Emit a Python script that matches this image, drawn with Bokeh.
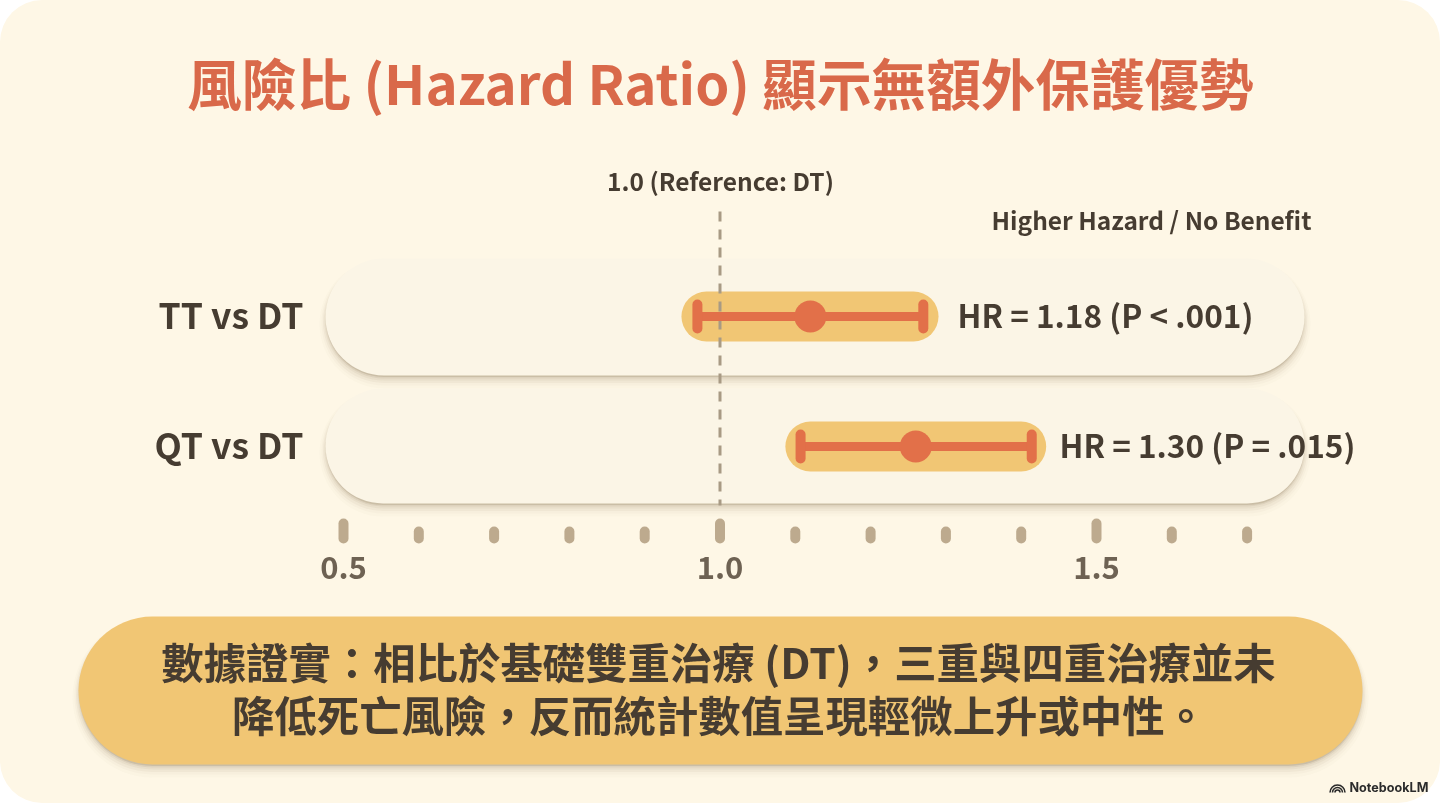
from bokeh.plotting import figure
from bokeh.models import Range1d
from bokeh.core.properties import value
from bokeh.embed import file_html
from bokeh.resources import INLINE

# ---- data
comparisons = ["TT vs DT", "QT vs DT"]
hr_point = [1.12, 1.26]
ci_low = [0.97, 1.107]
ci_high = [1.27, 1.414]
band_low = [0.982, 1.12]
band_high = [1.257, 1.40]
stat_labels = ["HR = 1.18 (P < .001)", "HR = 1.30 (P = .015)"]
major_ticks = [0.5, 1.0, 1.5]
minor_ticks = [0.6, 0.7, 0.8, 0.9, 1.1, 1.2, 1.3, 1.4, 1.6, 1.7]
tick_labels = ["0.5", "1.0", "1.5"]
reference_hr = 1.0

title_text = "風險比 (Hazard Ratio) 顯示無額外保護優勢"
ref_label = "1.0 (Reference: DT)"
side_label = "Higher Hazard / No Benefit"
footer_lines = ["數據證實：相比於基礎雙重治療 (DT)，三重與四重治療並未",
                "降低死亡風險，反而統計數值呈現輕微上升或中性。"]

# ---- layout (reference pixels)
ROW_Y = [316, 446]
FONT = value("Noto Sans CJK TC")
BG, PILL, GOLD, RED = "#FEF7E6", "#FBF5E6", "#F1C674", "#E27049"
DARK, TICK, MID = "#463C31", "#BDAA8E", "#6E6253"

W, H = 1440, 803
PX_PER_HR = 753
p = figure(width=W, height=H, output_backend="svg", toolbar_location=None,
           x_range=Range1d(0.5 + (0 - 343) / PX_PER_HR, 0.5 + (1440 - 343) / PX_PER_HR),
           y_range=Range1d(803, 0), min_border=0, outline_line_color=None,
           background_fill_alpha=0, border_fill_alpha=0)
p.axis.visible = False
p.grid.visible = False
p.extra_x_ranges["px"] = Range1d(0, 1440)


def pill(x0, x1, y0, y1, color):
    h = y1 - y0
    r = h / 2
    for grow, off, a in [(12, 7, .02), (8, 6, .03), (5, 5, .05), (2, 4, .07), (0, 3, .10), (-1, 2, .18)]:
        p.segment([x0 + r], [(y0 + y1) / 2 + off], [x1 - r], [(y0 + y1) / 2 + off], x_range_name="px",
                  line_width=h + grow, line_cap="round", line_color="#7A6440", line_alpha=a)
    p.segment([x0 + r], [(y0 + y1) / 2], [x1 - r], [(y0 + y1) / 2], x_range_name="px",
              line_width=h, line_cap="round", line_color=color)


pill(325, 1304, 258, 375, PILL)
pill(325, 1304, 388, 503, PILL)
pill(78, 1362, 616, 764, GOLD)

# confidence bands
p.segment(band_low, ROW_Y, band_high, ROW_Y, line_width=50, line_cap="round", line_color=GOLD)

# reference line
p.segment([reference_hr], [211], [reference_hr], [505], line_width=3, line_color="#A89A84",
          line_dash="10 8")

# whiskers, caps, points
p.segment(ci_low, ROW_Y, ci_high, ROW_Y, line_width=9, line_color=RED)
for xs in (ci_low, ci_high):
    p.segment(xs, [y - 12 for y in ROW_Y], xs, [y + 12 for y in ROW_Y], line_width=10,
              line_cap="round", line_color=RED)
p.scatter(hr_point, ROW_Y, size=32, marker="circle", fill_color=RED, line_color=None)

# scale ticks
p.segment(major_ticks, [523] * 3, major_ticks, [538] * 3, line_width=10, line_cap="round", line_color=TICK)
p.segment(minor_ticks, [531] * len(minor_ticks), minor_ticks, [538] * len(minor_ticks), line_width=10,
          line_cap="round", line_color=TICK)


def txt(x, y, s, size, color, align="center", style="bold", font=FONT):
    p.text([x], [y], text=[s], text_font=font, text_font_size=f"{size}px", text_font_style=style,
           text_color=color, text_align=align, text_baseline="middle", x_range_name="px")


txt(720, 81, title_text, 54.6, "#D9694A")
txt(720, 180, ref_label, 24.5, DARK)
txt(1151, 219, side_label, 24.5, DARK)
for y, name in zip(ROW_Y, comparisons):
    txt(303, y - 3, name, 35.5, DARK, align="right")
txt(957, ROW_Y[0] - 3, stat_labels[0], 31.6, DARK, align="left")
txt(1059, ROW_Y[1] - 3, stat_labels[1], 31.6, DARK, align="left")
for v, s in zip(major_ticks, tick_labels):
    p.text([v], [567], text=[s], text_font=FONT, text_font_size="31px", text_font_style="bold",
           text_color=MID, text_align="center", text_baseline="middle")
txt(718, 660, footer_lines[0], 42.4, DARK)
txt(719, 713, footer_lines[1], 42.4, DARK)

# watermark
for r in (7.5, 5, 2.5):
    p.arc([1337], [792], radius=r, radius_units="screen", start_angle=0, end_angle=3.14159,
          direction="anticlock", line_color="#2B2B2B", line_width=1.6, x_range_name="px")
p.text([1349], [787], text=["NotebookLM"], text_font=value("Inter"), text_font_size="12.6px",
       text_font_style="bold", text_color="#2B2B2B", text_align="left", text_baseline="middle",
       x_range_name="px")

html = file_html(p, INLINE, title="Hazard Ratio")
style = ("<style>html{background:#fff}body{background:transparent;overflow:hidden}"
         "body::before{content:'';position:fixed;inset:0;background:%s;border-radius:42px;z-index:-1}</style>" % BG)
html = html.replace("</head>", style + "</head>")
open("out.html", "w", encoding="utf-8").write(html)
